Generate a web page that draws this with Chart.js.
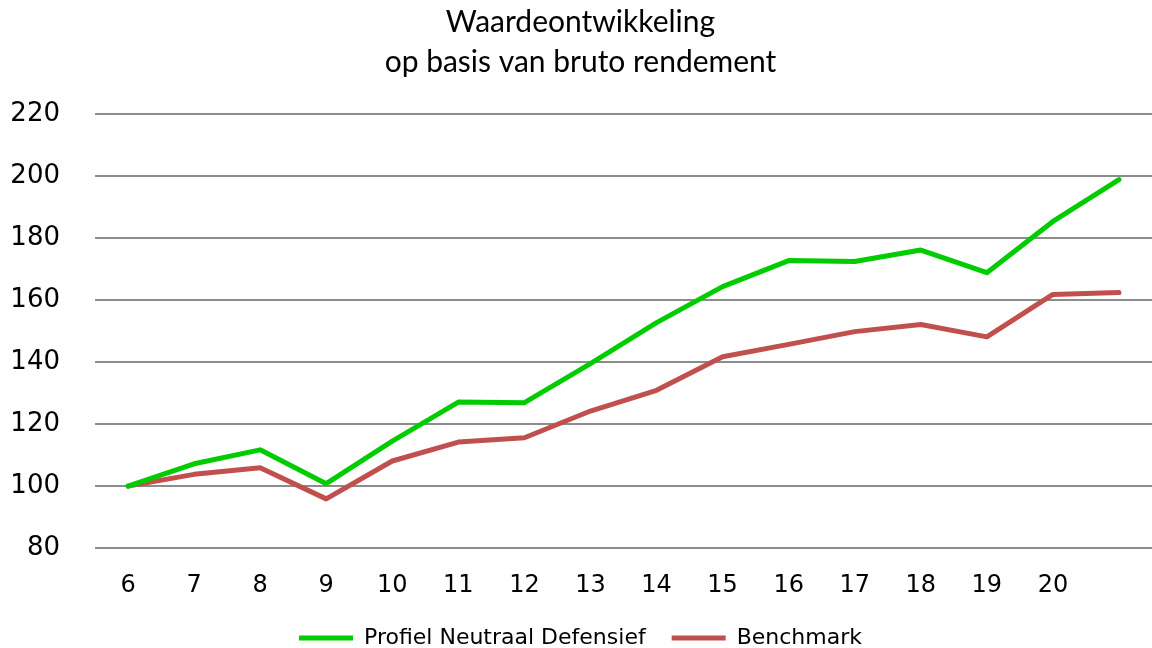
<!DOCTYPE html>
<html>
<head>
    <meta charset="utf-8">
    <title>Waardeontwikkeling</title>
    <script src="https://cdn.jsdelivr.net/npm/chart.js"></script>
    <style>
        body { margin: 0; background: #fff; }
        #wrap { width: 1152px; height: 648px; }
    </style>
</head>
<body>
<div id="wrap"><canvas id="chart"></canvas></div>

<script>
    // category labels (the last period has no label in the original)
    const labels = ['6', '7', '8', '9', '10', '11', '12', '13', '14', '15', '16', '17', '18', '19', '20', ''];

    // values
    const profiel = [100, 107.2, 111.7, 100.8, 114.5, 127.1, 126.9, 139.5, 152.7, 164.3, 172.7, 172.4, 176.1, 168.8, 185.3, 198.8];
    const benchmark = [100, 103.8, 105.9, 95.9, 108.1, 114.2, 115.6, 124.2, 130.9, 141.7, 145.7, 149.8, 152.1, 148.1, 161.8, 162.4];

    const yTicks = [80, 100, 120, 140, 160, 180, 200, 220];

    const ctx = document.getElementById('chart').getContext('2d');
    const chart = new Chart(ctx, {
        type: 'line',
        data: {
            labels: labels,
            datasets: [{
                label: 'Profiel Neutraal Defensief',
                data: profiel,
                borderColor: '#00CC00',
                backgroundColor: '#00CC00',
                borderWidth: 5,
                borderCapStyle: 'round',
                borderJoinStyle: 'round',
                pointRadius: 0,
                tension: 0
            }, {
                label: 'Benchmark',
                data: benchmark,
                borderColor: '#C0504D',
                backgroundColor: '#C0504D',
                borderWidth: 5,
                borderCapStyle: 'round',
                borderJoinStyle: 'round',
                pointRadius: 0,
                tension: 0
            }]
        },
        options: {
            responsive: true,
            maintainAspectRatio: false,
            animation: false,
            // negative padding: legend sits low and the plot runs to the right edge, as in the original
            layout: { padding: { left: 0, right: -9, top: 2, bottom: -11 } },
            plugins: {
                title: {
                    display: true,
                    text: ['Waardeontwikkeling', 'op basis van bruto rendement'],
                    color: '#000',
                    font: { family: 'Lato', size: 30, weight: 'normal', lineHeight: 1.33 },
                    padding: { top: 0, bottom: 32 }
                },
                legend: {
                    position: 'bottom',
                    labels: {
                        color: '#000',
                        font: { family: 'DejaVu Sans', size: 22 },
                        usePointStyle: true,
                        pointStyle: 'line',
                        pointStyleWidth: 54,
                        boxHeight: 22,
                        padding: 26
                    }
                },
                tooltip: { enabled: false }
            },
            scales: {
                x: {
                    offset: true,
                    // grid hidden, tickLength only used as space above the labels
                    grid: { display: false, tickLength: 22 },
                    border: { display: false },
                    ticks: {
                        color: '#000',
                        font: { family: 'DejaVu Sans', size: 24 },
                        padding: 1,
                        maxRotation: 0,
                        autoSkip: false
                    }
                },
                y: {
                    min: 80,
                    max: 220,
                    afterBuildTicks: axis => { axis.ticks = yTicks.map(v => ({ value: v })); },
                    afterFit: axis => { axis.width = 95; },
                    grid: { color: '#8c8c8c', lineWidth: 2, drawTicks: false },
                    border: { display: false },
                    ticks: {
                        color: '#000',
                        font: { family: 'DejaVu Sans', size: 26 },
                        padding: 35
                    }
                }
            }
        }
    });
</script>
</body>
</html>
